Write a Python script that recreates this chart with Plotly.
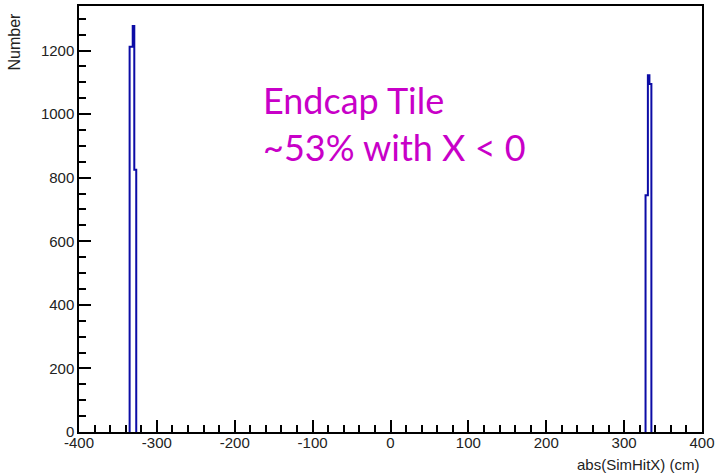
import plotly.graph_objects as go

# Histogram data (bin edges in cm, counts)
left_edges = [-335.0, -331.0, -329.0, -326.5]
left_counts = [1212, 1277, 825]
right_edges = [327.5, 330.5, 332.5, 335.0]
right_counts = [745, 1122, 1095]

x_ticks = [-400, -300, -200, -100, 0, 100, 200, 300, 400]
y_ticks = [0, 200, 400, 600, 800, 1000, 1200]

def step_path(edges, counts):
    xs, ys = [edges[0]], [0]
    for i, c in enumerate(counts):
        xs += [edges[i], edges[i + 1]]
        ys += [c, c]
    xs.append(edges[-1]); ys.append(0)
    return xs, ys

lx, ly = step_path(left_edges, left_counts)
rx, ry = step_path(right_edges, right_counts)

blue = "#0c0ca6"
fig = go.Figure()
fig.add_trace(go.Scatter(x=lx, y=ly, mode="lines", line=dict(color=blue, width=2), showlegend=False))
fig.add_trace(go.Scatter(x=rx, y=ry, mode="lines", line=dict(color=blue, width=2), showlegend=False))

tickfont = dict(family="Liberation Sans, Arial", size=15, color="#222")
fig.update_layout(
    width=719, height=475,
    margin=dict(l=79, r=13, t=4, b=43),
    paper_bgcolor="white", plot_bgcolor="white",
    xaxis=dict(range=[-400, 400], tickvals=x_ticks, ticktext=[str(v) for v in x_ticks],
               showgrid=False, zeroline=False, showline=True, mirror=True,
               linecolor="black", linewidth=1.5, ticks="inside", ticklen=12,
               tickcolor="black", tickwidth=1.5, tickfont=tickfont, ticklabelstandoff=-4,
               minor=dict(dtick=20, ticks="inside", ticklen=7, tickcolor="black", tickwidth=1.5, showgrid=False)),
    yaxis=dict(range=[0, 1340], tickvals=y_ticks, ticktext=[str(v) for v in y_ticks],
               showgrid=False, zeroline=False, showline=True, mirror=True,
               linecolor="black", linewidth=1.5, ticks="inside", ticklen=12,
               tickcolor="black", tickwidth=1.5, tickfont=tickfont,
               minor=dict(dtick=50, ticks="inside", ticklen=7, tickcolor="black", tickwidth=1.5, showgrid=False)),
)

fig.add_annotation(text="abs(SimHitX) (cm)", xref="paper", yref="paper", x=1.0, y=-0.052,
                   xanchor="right", yanchor="top", showarrow=False,
                   font=dict(family="Liberation Sans, Arial", size=15, color="#222"))
fig.add_annotation(text="Number", xref="paper", yref="paper", x=-0.104, y=0.99,
                   xanchor="center", yanchor="top", textangle=-90, showarrow=False,
                   font=dict(family="Liberation Sans, Arial", size=16, color="#222"))
fig.add_annotation(text="Endcap Tile<br>~53% with X < 0", x=-166, y=1120,
                   xanchor="left", yanchor="top", align="left", showarrow=False,
                   font=dict(family="Lato", size=36, color="#c800c8"))

fig.write_html("out.html")
